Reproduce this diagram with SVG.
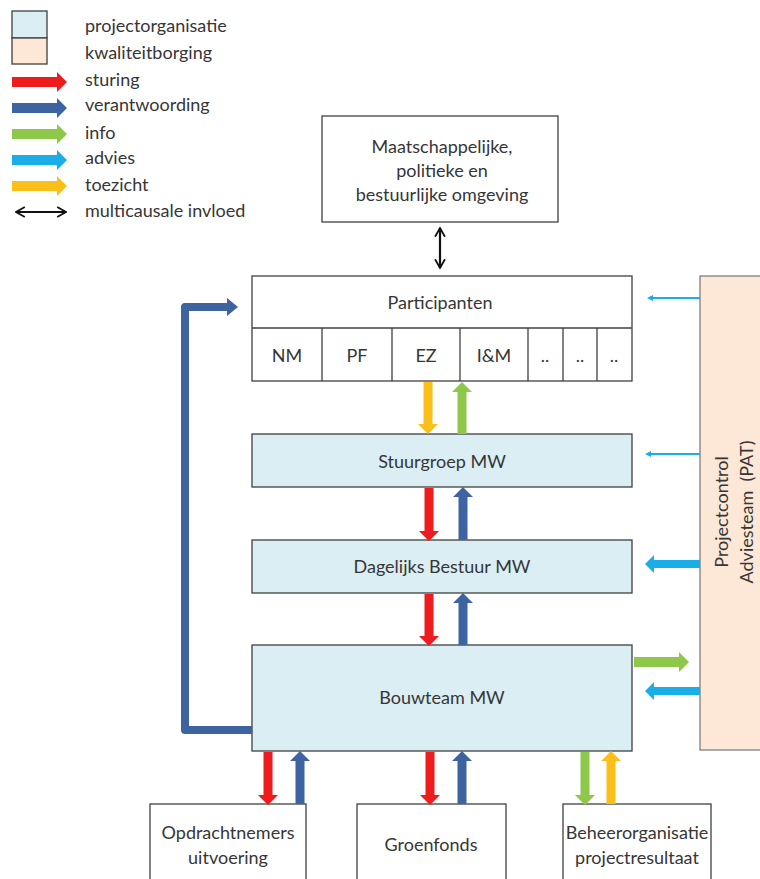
<svg xmlns="http://www.w3.org/2000/svg" width="760" height="879" viewBox="0 0 760 879">
  <style>
    text { font-family: Lato, "Open Sans", "Liberation Sans", sans-serif; font-size: 18px; fill: #363636; }
    .c { text-anchor: middle; }
    .box { fill: #ffffff; stroke: #404040; stroke-width: 1.3; }
    .org { fill: #daeef4; stroke: #404040; stroke-width: 1.3; }
    .qa { fill: #fde8d8; stroke: #7f7f7f; stroke-width: 1.3; }
    .red { fill: #ee1c1c; }
    .dblue { fill: #3d64a0; }
    .green { fill: #8dc84b; }
    .lblue { fill: #1aaee8; }
    .orange { fill: #fbbf1a; }
    .black { fill: none; stroke: #111111; stroke-width: 2.2; }
  </style>
  <defs>
    <marker id="chev" viewBox="0 0 10 10" refX="9" refY="5" markerWidth="5" markerHeight="6" orient="auto-start-reverse" markerUnits="strokeWidth">
      <path d="M1,0.5 L9,5 L1,9.5" fill="none" stroke="#111111" stroke-width="1.6"/>
    </marker>
  </defs>

  <!-- legend -->
  <g id="legend">
    <rect x="12" y="11" width="35" height="27" class="org"/>
    <rect x="12" y="38" width="35" height="26" class="qa" style="stroke:#404040"/>
    <text x="85" y="32">projectorganisatie</text>
    <text x="85" y="59">kwaliteitborging</text>
    <polygon class="red" points="12,77 57,77 57,72 67,82 57,92 57,87 12,87"/>
    <text x="85" y="86">sturing</text>
    <polygon class="dblue" points="12,103 57,103 57,98 67,108 57,118 57,113 12,113"/>
    <text x="85" y="111">verantwoording</text>
    <polygon class="green" points="12,129 57,129 57,124 67,134 57,144 57,139 12,139"/>
    <text x="85" y="139">info</text>
    <polygon class="lblue" points="12,155 57,155 57,150 67,160 57,170 57,165 12,165"/>
    <text x="85" y="164">advies</text>
    <polygon class="orange" points="12,181 57,181 57,176 67,186 57,196 57,191 12,191"/>
    <text x="85" y="191">toezicht</text>
    <line x1="16" y1="212" x2="66" y2="212" class="black" marker-start="url(#chev)" marker-end="url(#chev)"/>
    <text x="85" y="217">multicausale invloed</text>
  </g>

  <!-- nodes -->
  <g id="omgeving">
    <rect x="322" y="116" width="236" height="106" class="box"/>
    <text x="442" y="153" class="c">Maatschappelijke,</text>
    <text x="442" y="177" class="c">politieke en</text>
    <text x="442" y="201" class="c">bestuurlijke omgeving</text>
  </g>

  <g id="participanten">
    <rect x="252" y="276" width="380" height="105" class="box"/>
    <line x1="252" y1="328" x2="632" y2="328" stroke="#404040" stroke-width="1.3"/>
    <g stroke="#404040" stroke-width="1.3">
      <line x1="322" y1="328" x2="322" y2="381"/>
      <line x1="392" y1="328" x2="392" y2="381"/>
      <line x1="460" y1="328" x2="460" y2="381"/>
      <line x1="528" y1="328" x2="528" y2="381"/>
      <line x1="563" y1="328" x2="563" y2="381"/>
      <line x1="597" y1="328" x2="597" y2="381"/>
    </g>
    <text x="440" y="309" class="c">Participanten</text>
    <text x="287" y="362" class="c">NM</text>
    <text x="357" y="362" class="c">PF</text>
    <text x="426" y="362" class="c">EZ</text>
    <text x="494" y="362" class="c">I&amp;M</text>
    <text x="545" y="362" class="c">..</text>
    <text x="580" y="362" class="c">..</text>
    <text x="614" y="362" class="c">..</text>
  </g>

  <g id="stuurgroep">
    <rect x="252" y="434" width="380" height="53" class="org"/>
    <text x="442" y="468" class="c">Stuurgroep MW</text>
  </g>

  <g id="dagelijks-bestuur">
    <rect x="252" y="540" width="380" height="53" class="org"/>
    <text x="442" y="573" class="c">Dagelijks Bestuur MW</text>
  </g>

  <g id="bouwteam">
    <rect x="252" y="645" width="380" height="106" class="org"/>
    <text x="442" y="704" class="c">Bouwteam MW</text>
  </g>

  <g id="pat">
    <rect x="700" y="276" width="70" height="474" class="qa"/>
    <text transform="translate(728,512) rotate(-90)" class="c">Projectcontrol</text>
    <text transform="translate(753,512) rotate(-90)" class="c" style="white-space:pre">Adviesteam  (PAT)</text>
  </g>

  <g id="opdrachtnemers">
    <rect x="150" y="804" width="156" height="90" class="box"/>
    <text x="228" y="839" class="c">Opdrachtnemers</text>
    <text x="228" y="864" class="c">uitvoering</text>
  </g>

  <g id="groenfonds">
    <rect x="357" y="804" width="149" height="90" class="box"/>
    <text x="431" y="851" class="c">Groenfonds</text>
  </g>

  <g id="beheerorganisatie">
    <rect x="563" y="804" width="148" height="90" class="box"/>
    <text x="637" y="839" class="c">Beheerorganisatie</text>
    <text x="637" y="864" class="c">projectresultaat</text>
  </g>

  <!-- connectors -->
  <g id="connectors">
    <!-- omgeving <-> participanten -->
    <line x1="440" y1="228" x2="440" y2="268" class="black" marker-start="url(#chev)" marker-end="url(#chev)"/>

    <!-- participanten <-> stuurgroep -->
    <polygon class="orange" points="423.5,382 432.5,382 432.5,424 438,424 428,434 418,424 423.5,424"/>
    <polygon class="green" points="457.5,434 466.5,434 466.5,392 472,392 462,382 452,392 457.5,392"/>

    <!-- stuurgroep <-> dagelijks bestuur -->
    <polygon class="red" points="424.5,488 433.5,488 433.5,531 439,531 429,541 419,531 424.5,531"/>
    <polygon class="dblue" points="458.5,540 467.5,540 467.5,497 473,497 463,487 453,497 458.5,497"/>

    <!-- dagelijks bestuur <-> bouwteam -->
    <polygon class="red" points="424.5,594 433.5,594 433.5,636 439,636 429,646 419,636 424.5,636"/>
    <polygon class="dblue" points="458.5,645 467.5,645 467.5,603 473,603 463,593 453,603 458.5,603"/>

    <!-- bouwteam <-> opdrachtnemers -->
    <polygon class="red" points="263.5,752 272.5,752 272.5,795 278,795 268,805 258,795 263.5,795"/>
    <polygon class="dblue" points="295.5,804 304.5,804 304.5,761 310,761 300,751 290,761 295.5,761"/>

    <!-- bouwteam <-> groenfonds -->
    <polygon class="red" points="425.5,752 434.5,752 434.5,795 440,795 430,805 420,795 425.5,795"/>
    <polygon class="dblue" points="457.5,804 466.5,804 466.5,761 472,761 462,751 452,761 457.5,761"/>

    <!-- bouwteam <-> beheerorganisatie -->
    <polygon class="green" points="580.5,752 589.5,752 589.5,795 595,795 585,805 575,795 580.5,795"/>
    <polygon class="orange" points="606.5,804 615.5,804 615.5,761 621,761 611,751 601,761 606.5,761"/>

    <!-- bouwteam verantwoording back to participanten -->
    <path d="M252,730 H185 V307 H228" fill="none" stroke="#3d64a0" stroke-width="8" stroke-linejoin="round"/>
    <polygon class="dblue" points="227,298 238,307 227,316"/>

    <!-- PAT advies / info -->
    <polygon class="lblue" points="700,297 653,297 653,295 647,298 653,301 653,299 700,299"/>
    <polygon class="lblue" points="700,453 651,453 651,451 645,454 651,457 651,455 700,455"/>
    <polygon class="lblue" points="700,560 654,560 654,555 645,564 654,573 654,568 700,568"/>
    <polygon class="green" points="634,657 679,657 679,652 689,662 679,672 679,667 634,667"/>
    <polygon class="lblue" points="700,687 654,687 654,682 645,691 654,700 654,695 700,695"/>
  </g>
</svg>
